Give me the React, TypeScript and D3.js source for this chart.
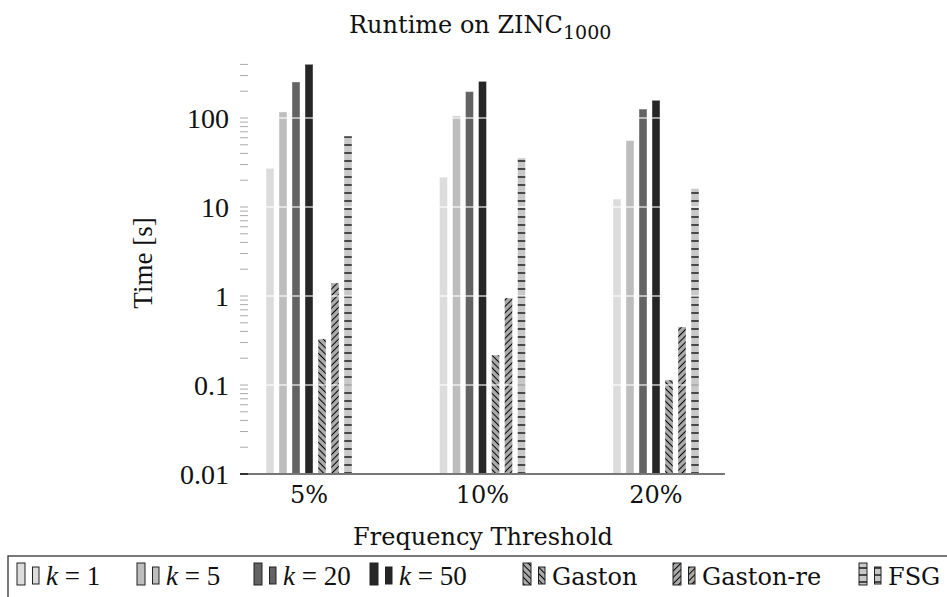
import React, { useEffect, useRef } from "react";
import * as d3 from "d3";

const categories = ["5%", "10%", "20%"];
const seriesNames = ["k1", "k5", "k20", "k50", "Gaston", "Gaston-re", "FSG"];
const k1 = [27.2, 21.6, 12.3];
const k5 = [117, 105, 55.6];
const k20 = [254, 198, 126];
const k50 = [401, 258, 158];
const gaston = [0.329, 0.217, 0.114];
const gastonRe = [1.4, 0.95, 0.449];
const fsg = [62.8, 35.5, 16.1];
const yTickValues = [0.01, 0.1, 1, 10, 100];
const yTickLabels = ["0.01", "0.1", "1", "10", "100"];
const legendLabels = ["k = 1", "k = 5", "k = 20", "k = 50", "Gaston", "Gaston-re", "FSG"];

const W = 947;
const H = 597;
const SERIF = "'DejaVu Serif', serif";
const MATH = "'Liberation Serif', serif";

export default function App() {
  const ref = useRef<SVGSVGElement>(null);
  useEffect(() => {
    const svg = d3.select(ref.current);
    svg.selectAll("*").remove();
    const series = [k1, k5, k20, k50, gaston, gastonRe, fsg];
    const fills = ["#dcdcdc", "#bdbdbd", "#636363", "#262626", "url(#hBack)", "url(#hFwd)", "url(#hHor)"];
    const swFills = ["#dcdcdc", "#bdbdbd", "#636363", "#262626", "url(#lBack)", "url(#lFwd)", "url(#lHor)"];

    const defs = svg.append("defs");
    const mkDiag = (id: string, angle: number, bg: string, sp: number) => {
      const p = defs.append("pattern").attr("id", id).attr("patternUnits", "userSpaceOnUse")
        .attr("width", sp).attr("height", sp).attr("patternTransform", `rotate(${angle})`);
      p.append("rect").attr("width", sp).attr("height", sp).attr("fill", bg);
      p.append("line").attr("x1", 0).attr("y1", sp / 2).attr("x2", sp).attr("y2", sp / 2)
        .attr("stroke", "#000").attr("stroke-width", 1);
    };
    mkDiag("hBack", 45, "#ababab", 4.5);
    mkDiag("hFwd", -45, "#ababab", 4.5);
    mkDiag("lBack", 45, "#ababab", 4.5);
    mkDiag("lFwd", -45, "#ababab", 4.5);
    const mkHor = (id: string, sp: number) => {
      const p = defs.append("pattern").attr("id", id).attr("patternUnits", "userSpaceOnUse")
        .attr("width", 20).attr("height", sp).attr("y", 0);
      p.append("rect").attr("width", 20).attr("height", sp).attr("fill", "#c8c8c8");
      p.append("line").attr("x1", 0).attr("y1", 1).attr("x2", 20).attr("y2", 1)
        .attr("stroke", "#000").attr("stroke-width", 1.3);
    };
    mkHor("hHor", 8);
    mkHor("lHor", 7);

    const x0 = d3.scalePoint<string>().domain(categories).range([309, 656]);
    const x1 = d3.scaleBand<string>().domain(seriesNames).range([-43, 43]).paddingInner(0.385);
    const y = d3.scaleLog().domain([0.01, 450]).range([474, 474 - 89 * Math.log10(45000)]);
    const base = y(0.01);

    // bars
    const g = svg.append("g");
    categories.forEach((c, ci) => {
      seriesNames.forEach((s, si) => {
        const v = series[si][ci];
        g.append("rect")
          .attr("x", (x0(c) as number) + (x1(s) as number))
          .attr("y", y(v))
          .attr("width", x1.bandwidth())
          .attr("height", base - y(v))
          .attr("fill", fills[si])
          .attr("stroke", "#ffffff")
          .attr("stroke-opacity", 0.4)
          .attr("stroke-width", 1);
      });
    });

    // grid lines (white, over bars)
    svg.append("g").selectAll("line").data(yTickValues.slice(1)).join("line")
      .attr("x1", 240).attr("x2", 725)
      .attr("y1", (d) => y(d)).attr("y2", (d) => y(d))
      .attr("stroke", "#fff").attr("stroke-opacity", 0.75).attr("stroke-width", 1.5);

    // minor ticks
    const minor: number[] = [];
    for (let e = -2; e <= 2; e++) for (let m = 1; m <= 9; m++) {
      const v = m * Math.pow(10, e);
      if (v <= 450) minor.push(v);
    }
    svg.append("g").selectAll("line").data(minor).join("line")
      .attr("x1", 240).attr("x2", 248)
      .attr("y1", (d) => y(d)).attr("y2", (d) => y(d))
      .attr("stroke", "#aaaaaa").attr("stroke-width", 1);

    // y tick labels
    svg.append("g").selectAll("text").data(yTickValues).join("text")
      .attr("x", 229).attr("y", (d) => y(d)).attr("dy", "0.35em")
      .attr("text-anchor", "end").attr("font-family", MATH).attr("font-size", 28)
      .attr("fill", "#111").text((d, i) => yTickLabels[i]);

    // x axis line
    svg.append("line").attr("x1", 240).attr("x2", 725).attr("y1", base).attr("y2", base)
      .attr("stroke", "#777").attr("stroke-width", 2);
    svg.append("line").attr("x1", 240).attr("x2", 248).attr("y1", base).attr("y2", base)
      .attr("stroke", "#333").attr("stroke-width", 2);

    // x labels
    svg.append("g").selectAll("text").data(categories).join("text")
      .attr("x", (d) => x0(d) as number).attr("y", 503)
      .attr("text-anchor", "middle").attr("font-family", SERIF).attr("font-size", 24)
      .attr("fill", "#111").text((d) => d);

    svg.append("text").attr("x", 483).attr("y", 545).attr("text-anchor", "middle")
      .attr("font-family", SERIF).attr("font-size", 24).attr("fill", "#111")
      .text("Frequency Threshold");

    // y label
    svg.append("text").attr("transform", "translate(152,263) rotate(-90)")
      .attr("text-anchor", "middle").attr("font-family", MATH).attr("font-size", 27)
      .attr("fill", "#111").text("Time [s]");

    // title
    const t = svg.append("text").attr("x", 349).attr("y", 33)
      .attr("font-family", SERIF).attr("font-size", 24).attr("fill", "#111");
    t.append("tspan").text("Runtime on ZINC");
    t.append("tspan").attr("dy", 6).attr("font-family", SERIF).attr("font-size", 19).text("1000");

    // legend
    svg.append("rect").attr("x", 8).attr("y", 556).attr("width", 1000).attr("height", 60)
      .attr("fill", "none").attr("stroke", "#222").attr("stroke-width", 1.2);
    const legX = [17, 137, 254, 370, 523, 673, 859];
    legendLabels.forEach((lab, i) => {
      const lx = legX[i];
      svg.append("rect").attr("x", lx).attr("y", 563).attr("width", 8).attr("height", 22)
        .attr("fill", swFills[i]).attr("stroke", "#222").attr("stroke-width", 1);
      svg.append("rect").attr("x", lx + 15.5).attr("y", 567).attr("width", 6.5).attr("height", 17)
        .attr("fill", swFills[i]).attr("stroke", "#222").attr("stroke-width", 1);
      const tx = svg.append("text").attr("x", lx + 29).attr("y", 585).attr("fill", "#111");
      if (lab.startsWith("k")) {
        tx.attr("font-family", MATH).attr("font-size", 27);
        tx.append("tspan").attr("font-style", "italic").text("k");
        tx.append("tspan").attr("xml:space", "preserve").text(" = " + lab.split("= ")[1]);
      } else {
        tx.attr("font-family", SERIF).attr("font-size", 24).text(lab);
      }
    });
  }, []);
  return (
    <svg ref={ref} width={W} height={H} style={{ position: "absolute", left: 0, top: 0, background: "#fff" }} />
  );
}
